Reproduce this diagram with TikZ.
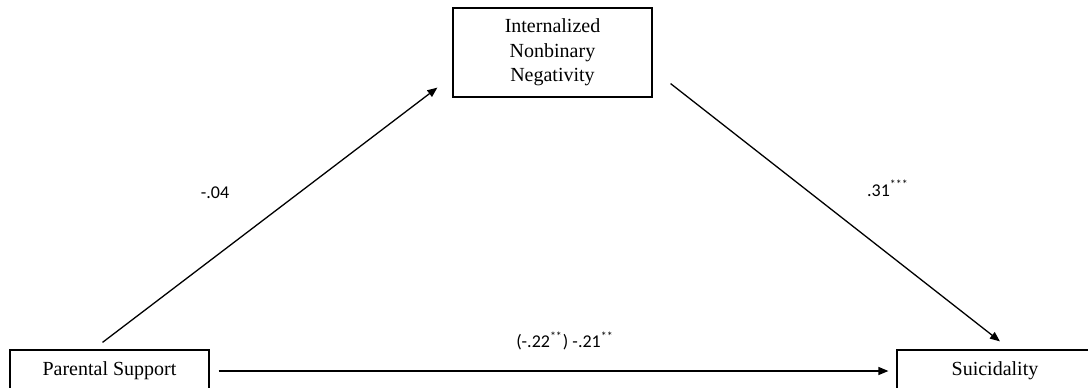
\documentclass[tikz,border=0pt]{standalone}
\usepackage{fontspec}
\setmainfont{Liberation Serif}
\newfontfamily\coeffont{Carlito}
\usetikzlibrary{arrows.meta}

\begin{document}
\begin{tikzpicture}[x=0.5pt, y=-0.5pt,
    var/.style={draw, line width=0.6pt, minimum width=99.5pt, inner sep=0pt, font=\fontsize{10}{12.25}\selectfont},
    effect/.style={line width=0.65pt, -{Triangle[length=5pt, width=4pt]}},
    coef/.style={inner sep=0pt, font=\coeffont\fontsize{9}{11}\selectfont}]
    \useasboundingbox (0,0) rectangle (1088,387);
    \clip (0,0) rectangle (1088,387);

    % variables
    \node[var, minimum height=44.5pt, align=center] (inn) at (552.5,52.5) {Internalized\\Nonbinary\\Negativity};
    \node[var, minimum height=21pt] (par) at (109.5,371) {Parental Support};
    \node[var, minimum width=98pt, minimum height=21pt] (sui) at (995,371) {Suicidality};

    % arrow ends
    \coordinate (a1) at ([shift={(-7,-7)}]par.north);
    \coordinate (a2) at ([shift={(-15,-10)}]inn.south west);
    \coordinate (b1) at ([shift={(18,-14)}]inn.south east);
    \coordinate (b2) at ([shift={(5,-8)}]sui.north);
    \coordinate (c1) at ([shift={(9,0)}]par.east);
    \coordinate (c2) at ([shift={(-8,0)}]sui.west);

    \draw[effect] (a1) -- (a2);
    \draw[effect] (b1) -- (b2);
    \draw[effect] (c1) -- (c2);

    % coefficients
    \node[coef] (ca) at (215,193) {-.04};
    \node[coef] (cb) at (888,188) {.31\textsuperscript{***}};
    \node[coef] (cc) at (565,341) {(-.22\textsuperscript{**}) -.21\textsuperscript{**}};
\end{tikzpicture}
\end{document}
